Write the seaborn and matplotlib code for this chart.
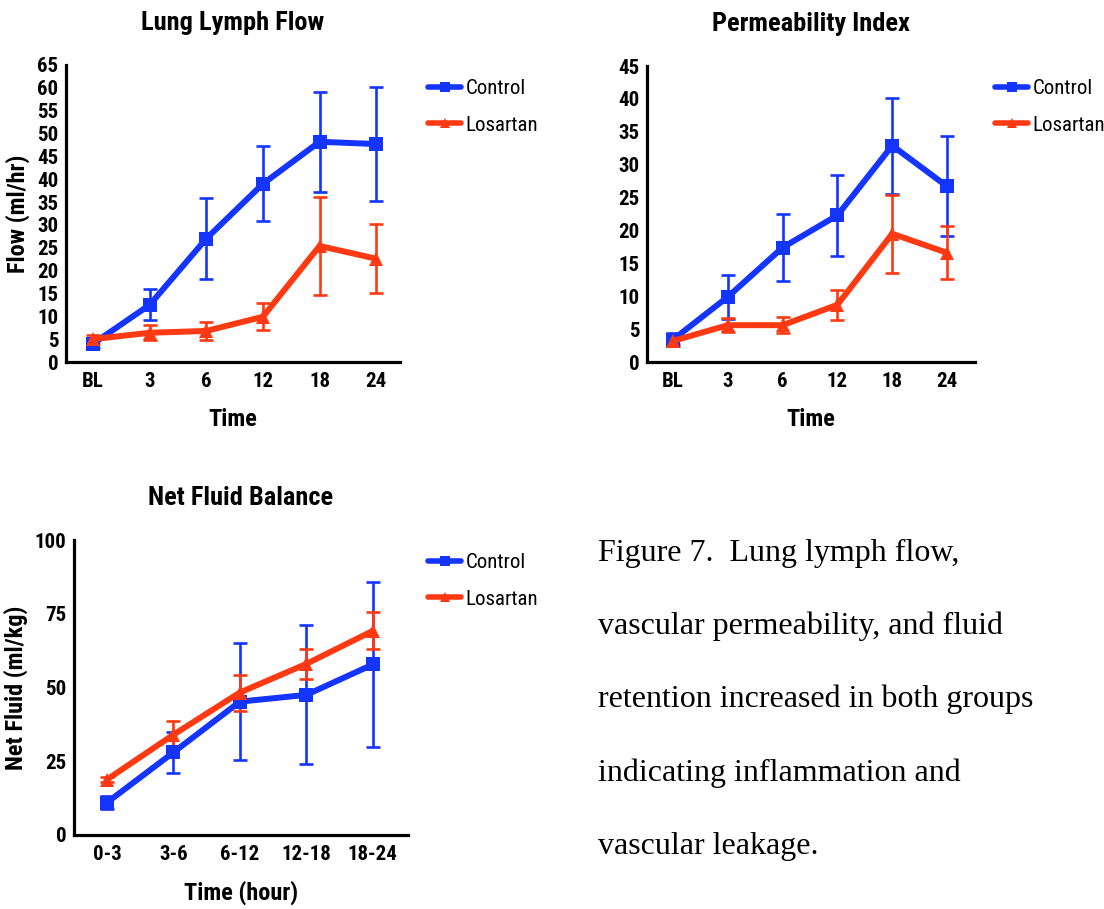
import numpy as np
import pandas as pd
import matplotlib
matplotlib.use('Agg')
import matplotlib.pyplot as plt
import seaborn as sns
from matplotlib.lines import Line2D
from matplotlib import font_manager

# ---------------- data ----------------
time_cats = ['BL', '3', '6', '12', '18', '24']
flow_control = [4.0, 12.5, 27.0, 39.0, 48.2, 47.7]
flow_control_err = [1.0, 3.4, 8.8, 8.2, 11.0, 12.4]
flow_losartan = [5.0, 6.4, 6.8, 9.9, 25.4, 22.6]
flow_losartan_err = [0.8, 1.6, 2.0, 3.0, 10.7, 7.5]

perm_control = [3.4, 9.9, 17.4, 22.3, 32.9, 26.7]
perm_control_err = [1.0, 3.3, 5.1, 6.2, 7.3, 7.6]
perm_losartan = [3.2, 5.6, 5.6, 8.7, 19.5, 16.6]
perm_losartan_err = [0.5, 1.1, 1.2, 2.3, 5.9, 4.0]

net_cats = ['0-3', '3-6', '6-12', '12-18', '18-24']
net_control = [11.0, 28.0, 45.2, 47.5, 57.8]
net_control_err = [2.3, 7.0, 19.8, 23.6, 28.0]
net_losartan = [18.8, 34.0, 48.3, 58.0, 69.2]
net_losartan_err = [0.8, 4.5, 6.1, 5.2, 6.3]

groups = ['Control', 'Losartan']
caption_lines = ['Figure 7.  Lung lymph flow,',
                 'vascular permeability, and fluid',
                 'retention increased in both groups',
                 'indicating inflammation and',
                 'vascular leakage.']

# ---------------- style ----------------
sns.set_style('white')
avail = {f.name for f in font_manager.fontManager.ttflist}
SANS = 'Liberation Sans'
for cand in ['Liberation Sans Narrow', 'DejaVu Sans Condensed', 'Roboto Condensed',
             'Open Sans Condensed']:
    if cand in avail:
        SANS = cand
        break
CONDENSED = SANS != 'Liberation Sans'
plt.rcParams['font.family'] = [SANS, 'DejaVu Sans']
for k in ['text.color', 'axes.labelcolor', 'xtick.color', 'ytick.color']:
    plt.rcParams[k] = 'black'

BLUE = '#1434FF'
RED = '#FF3A12'
palette = {'Control': BLUE, 'Losartan': RED}
markers = {'Control': 's', 'Losartan': '^'}

W, H = 1104, 909
fig = plt.figure(figsize=(W / 100, H / 100), dpi=100)

LEG_FS = 15 if CONDENSED else 13.5
TICK_FS = 15 if CONDENSED else 13
LABEL_FS = 17.5 if CONDENSED else 16
TITLE_FS = 19 if CONDENSED else 17


def px_axes(left, top, right, bottom):
    return fig.add_axes([left / W, 1 - bottom / H, (right - left) / W, (bottom - top) / H])


def draw(ax, cats, ctrl, ctrl_err, los, los_err, xlim, ylim, yticks, title, xlabel, ylabel,
         legend_anchor):
    pos = np.arange(len(cats))
    df = pd.DataFrame({
        'pos': np.concatenate([pos, pos]),
        'value': ctrl + los,
        'err': ctrl_err + los_err,
        'group': ['Control'] * len(cats) + ['Losartan'] * len(cats),
    })
    for g in groups:
        sub = df[df['group'] == g]
        ax.errorbar(sub['pos'], sub['value'], yerr=sub['err'], fmt='none',
                    ecolor=palette[g], elinewidth=1.9, capsize=5, capthick=1.9,
                    zorder=2, clip_on=False)
    sns.lineplot(data=df, x='pos', y='value', hue='group', style='group',
                 markers=markers, dashes=False, palette=palette, linewidth=4.3,
                 markersize=10.5, markeredgewidth=0, legend=False, errorbar=None,
                 ax=ax, zorder=3, clip_on=False)
    ax.set_xlim(*xlim)
    ax.set_ylim(*ylim)
    ax.set_xticks(pos)
    ax.set_xticklabels(cats)
    ax.set_yticks(yticks)
    for s in ['top', 'right']:
        ax.spines[s].set_visible(False)
    for s in ['left', 'bottom']:
        ax.spines[s].set_linewidth(2.3)
        ax.spines[s].set_color('black')
    ax.tick_params(axis='both', direction='out', length=4.5, width=2, color='black',
                   labelsize=TICK_FS, pad=1.0, labelcolor='black')
    ax.tick_params(axis='x', pad=3)
    for lab in ax.get_xticklabels() + ax.get_yticklabels():
        lab.set_fontweight('bold')
    ax.set_title(title, fontsize=TITLE_FS, fontweight='bold', pad=25, color='black')
    ax.set_xlabel(xlabel, fontsize=LABEL_FS, fontweight='bold', labelpad=12, color='black')
    ax.set_ylabel(ylabel, fontsize=LABEL_FS, fontweight='bold', labelpad=5, color='black')
    ax.grid(False)
    handles = [Line2D([], [], color=palette[g], lw=4, marker=markers[g], markersize=7,
                      markeredgewidth=0) for g in groups]
    leg = ax.legend(handles, groups, loc='upper left',
                    bbox_to_anchor=(legend_anchor[0] / W, 1 - legend_anchor[1] / H),
                    bbox_transform=fig.transFigure, frameon=False, fontsize=LEG_FS,
                    handlelength=1.6, handletextpad=0.2, labelspacing=0.85,
                    borderpad=0, borderaxespad=0)
    for t in leg.get_texts():
        t.set_color('black')


ax1 = px_axes(66, 65, 400, 362)
draw(ax1, time_cats, flow_control, flow_control_err, flow_losartan, flow_losartan_err,
     (-0.477, 5.42), (0, 65), np.arange(0, 66, 5), 'Lung Lymph Flow', 'Time',
     'Flow (ml/hr)', (428, 79))

ax2 = px_axes(647, 66, 975, 362)
draw(ax2, time_cats, perm_control, perm_control_err, perm_losartan, perm_losartan_err,
     (-0.474, 5.51), (0, 45), np.arange(0, 46, 5), 'Permeability Index', 'Time',
     '', (995, 79))

ax3 = px_axes(74, 540, 408, 835)
draw(ax3, net_cats, net_control, net_control_err, net_losartan, net_losartan_err,
     (-0.496, 4.53), (0, 100), np.arange(0, 101, 25), 'Net Fluid Balance', 'Time (hour)',
     'Net Fluid (ml/kg)', (428, 553))

baselines = [561, 634, 707, 781, 854]
for line, yb in zip(caption_lines, baselines):
    fig.text(598 / W, 1 - yb / H, line, fontsize=23, family='Liberation Serif',
             ha='left', va='baseline', color='black')

fig.savefig('out.png', dpi=100)
